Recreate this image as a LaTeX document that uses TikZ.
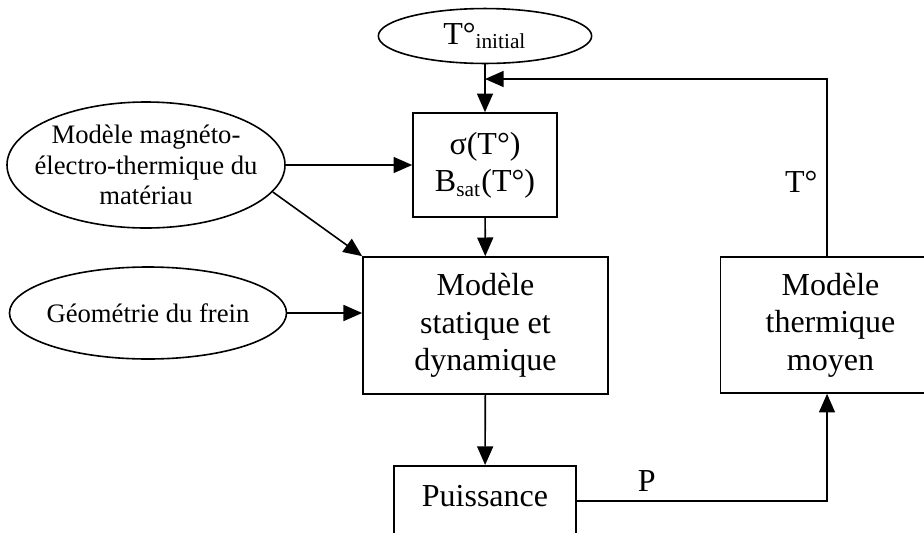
\documentclass[tikz,border=0pt]{standalone}
\usepackage{fontspec}
\setmainfont{Liberation Serif}
\usetikzlibrary{shapes.geometric, arrows.meta}

\begin{document}
\begin{tikzpicture}[
    x=0.375pt, y=-0.375pt,
    box/.style={rectangle, draw=black, line width=0.6pt, align=center, font=\fontsize{12pt}{14pt}\selectfont},
    oval/.style={ellipse, draw=black, line width=0.6pt, align=center, inner sep=0pt, font=\fontsize{10pt}{11.5pt}\selectfont},
    arrow/.style={-{Triangle[length=7pt, width=6pt]}, line width=0.6pt},
    lbl/.style={font=\fontsize{12pt}{14pt}\selectfont}
]
    \useasboundingbox (0,0) rectangle (924,533);

    % Nodes
    \node[oval, font=\fontsize{12pt}{14pt}\selectfont, inner ysep=2pt, minimum width=80pt, minimum height=20.6pt] (tinit) at (485,36) {T°\textsubscript{initial}};
    \node[box, minimum width=54pt, minimum height=39pt] (sigma) at (485,165) {σ(T°)\\B\textsubscript{sat}(T°)};
    \node[oval, inner xsep=-5pt, inner ysep=1.5pt, minimum width=104.25pt, minimum height=47.25pt] (mag) at (146,165) {Modèle magnéto-\\électro-thermique du\\matériau};
    \node[oval, inner xsep=-1.5pt, inner ysep=8.3pt, minimum width=103.9pt, minimum height=34.5pt] (geo) at (148,313) {Géométrie du frein};
    \node[box, minimum width=91.9pt, minimum height=51.4pt] (stat) at (485.5,325.5) {Modèle\\statique et\\dynamique};
    \node[box, minimum width=82.5pt, minimum height=51pt] (therm) at (830.5,325) {Modèle\\thermique\\moyen};
    \node[box, anchor=north, minimum width=68.25pt, inner ysep=0pt, text height=15.4pt, text depth=10.9pt] (puiss) at (485,465) {Puissance};
    \coordinate (fb) at (485,79);

    % Arrows
    \draw[arrow] (tinit) -- (sigma);
    \draw[arrow] (mag) -- (sigma);
    \draw[arrow] (mag.-12) -- (stat.north west);
    \draw[arrow] (geo.east) -- (geo.east -| stat.west);
    \draw[arrow] (sigma) -- (stat);
    \draw[arrow] (stat) -- (puiss);
    \draw[arrow] (puiss.east) -| node[lbl, above, pos=0.14] {P} ([xshift=-1.3pt]therm.south);
    \draw[arrow] ([xshift=-1.3pt]therm.north) |- node[lbl, left, pos=0.21] {T°} (fb);
\end{tikzpicture}
\end{document}
